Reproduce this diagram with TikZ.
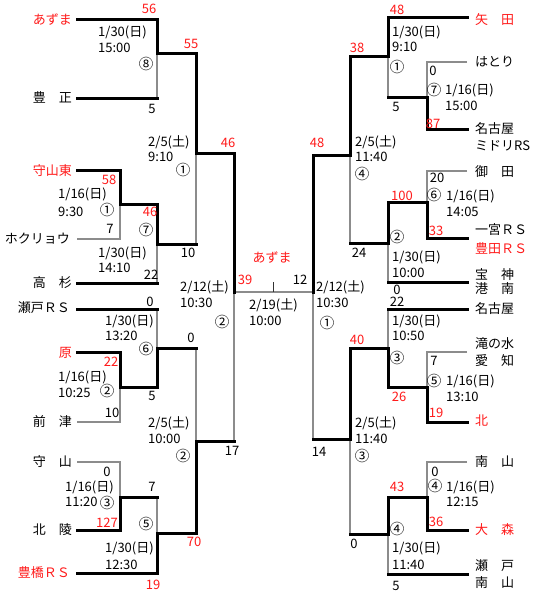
\documentclass[tikz,border=0pt]{standalone}
\usepackage{fontspec}
\setmainfont{Noto Sans CJK JP}
\definecolor{mred}{HTML}{FF1A1A}
\definecolor{lgray}{HTML}{8C8C8C}
\begin{document}
\begin{tikzpicture}[x=1pt,y=-1pt,
  win/.style={line width=3pt,line join=miter,line cap=rect},
  lose/.style={line width=1.2pt,draw=lgray},
  txt/.style={inner sep=0pt,text height=10pt,text depth=1pt,font=\fontsize{13}{15}\selectfont},
  circ/.style={inner sep=0pt,text height=10pt,text depth=1pt,font=\fontsize{14.5}{16}\selectfont},
  rd/.style={text=mred},
  lt/.style={txt,anchor=east},
  wt/.style={txt,anchor=west},
]
\path[use as bounding box,fill=white] (0,0) rectangle (540,602);

% ---------- gray (loser) lines ----------
% left
\draw[lose] (157,54) -- (157,98);
\draw[lose] (120,204) -- (120,239) -- (77,239);
\draw[lose] (157,244) -- (157,283);
\draw[lose] (196,153) -- (196,244);
\draw[lose] (234,292) -- (234,441);
\draw[lose] (157,309) -- (157,348);
\draw[lose] (120,387) -- (120,422) -- (77,422);
\draw[lose] (196,348) -- (196,441);
\draw[lose] (77,462) -- (120,462) -- (120,497);
\draw[lose] (157,497) -- (157,533);
% final
\draw[lose] (234,292) -- (313,292);
\draw[line width=1pt,black!80] (273,282) -- (273,292);
% right
\draw[lose] (388,57) -- (388,97);
\draw[lose] (467,62) -- (427,62) -- (427,97);
\draw[lose] (350,155) -- (350,243);
\draw[lose] (467,171) -- (427,171) -- (427,202);
\draw[lose] (388,243) -- (388,282);
\draw[lose] (388,309) -- (388,348);
\draw[lose] (467,352) -- (427,352) -- (427,387);
\draw[lose] (313,292) -- (313,439);
\draw[lose] (350,439) -- (350,534);
\draw[lose] (467,462) -- (427,462) -- (427,497);
\draw[lose] (388,534) -- (388,574);

% ---------- thick (winner) lines ----------
% left
\draw[win] (77,20) -- (157,20) -- (157,54) -- (196,54) -- (196,153) -- (234,153) -- (234,292);
\draw[win] (77,98) -- (157,98);
\draw[win] (77,170) -- (120,170) -- (120,204) -- (157,204) -- (157,244) -- (196,244);
\draw[win] (77,283) -- (157,283);
\draw[win] (77,309) -- (157,309);
\draw[win] (77,352) -- (120,352) -- (120,387) -- (157,387) -- (157,348) -- (196,348);
\draw[win] (77,530) -- (120,530) -- (120,497) -- (157,497);
\draw[win] (77,573) -- (157,573) -- (157,533) -- (196,533) -- (196,441) -- (234,441);
% right
\draw[win] (467,18) -- (388,18) -- (388,57) -- (350,57) -- (350,155) -- (313,155) -- (313,292);
\draw[win] (388,97) -- (427,97) -- (427,129) -- (467,129);
\draw[win] (350,243) -- (388,243) -- (388,202) -- (427,202) -- (427,238) -- (467,238);
\draw[win] (388,282) -- (467,282);
\draw[win] (467,309) -- (388,309);
\draw[win] (313,439) -- (350,439) -- (350,348) -- (388,348) -- (388,387) -- (427,387) -- (427,422) -- (467,422);
\draw[win] (350,534) -- (388,534) -- (388,497) -- (427,497) -- (427,530) -- (467,530);
\draw[win] (388,574) -- (467,574);

% ---------- left texts ----------
\node[lt,rd] (l1) at (72,20) {あずま};
\node[txt,rd] (l2) at (149,9) {56};
\node[wt] (l3) at (98,32) {1/30(日)};
\node[wt] (l4) at (98,48) {15:00};
\node[circ] (l5) at (146,65) {⑧};
\node[lt] (l6) at (72,98) {豊　正};
\node[txt] (l7) at (152,109) {5};
\node[txt,rd] (l8) at (191,44) {55};
\node[wt] (l9) at (148,142) {2/5(土)};
\node[wt] (l10) at (148,157) {9:10};
\node[circ] (l11) at (183,171) {①};
\node[txt,rd] (l12) at (228,143) {46};
\node[lt,rd] (l13) at (72,171) {守山東};
\node[txt,rd] (l14) at (109,180) {58};
\node[wt] (l15) at (58,194) {1/16(日)};
\node[wt] (l16) at (58,212) {9:30};
\node[circ] (l17) at (107,211) {①};
\node[txt] (l18) at (110,229) {7};
\node[lt] (l19) at (70,239) {ホクリョウ};
\node[txt,rd] (l20) at (150,212) {46};
\node[circ] (l21) at (146,231) {⑦};
\node[wt] (l22) at (98,253) {1/30(日)};
\node[wt] (l23) at (98,268) {14:10};
\node[txt] (l24) at (151,275) {22};
\node[txt] (l25) at (188,253) {10};
\node[lt] (l26) at (72,283) {高　杉};
\node[wt] (l27) at (180,287) {2/12(土)};
\node[wt] (l28) at (180,303) {10:30};
\node[circ] (l29) at (222,323) {②};
\node[txt] (l30) at (150,302) {0};
\node[lt] (l31) at (70,308) {瀬戸ＲＳ};
\node[wt] (l32) at (105,321) {1/30(日)};
\node[wt] (l33) at (105,336) {13:20};
\node[circ] (l34) at (146,350) {⑥};
\node[txt] (l35) at (191,338) {0};
\node[lt,rd] (l36) at (72,353) {原};
\node[txt,rd] (l37) at (111,362) {22};
\node[wt] (l38) at (58,377) {1/16(日)};
\node[wt] (l39) at (58,393) {10:25};
\node[circ] (l40) at (107,392) {②};
\node[txt] (l41) at (112,413) {10};
\node[txt] (l42) at (152,396) {5};
\node[lt] (l43) at (72,422) {前　津};
\node[wt] (l44) at (148,423) {2/5(土)};
\node[wt] (l45) at (148,439) {10:00};
\node[circ] (l46) at (183,457) {②};
\node[txt] (l47) at (232,451) {17};
\node[lt] (l48) at (72,462) {守　山};
\node[txt] (l49) at (107,472) {0};
\node[wt] (l50) at (65,487) {1/16(日)};
\node[wt] (l51) at (65,502) {11:20};
\node[circ] (l52) at (107,504) {③};
\node[txt] (l53) at (152,487) {7};
\node[circ] (l54) at (146,525) {⑤};
\node[lt] (l55) at (72,530) {北　陵};
\node[txt,rd] (l56) at (107,523) {127};
\node[wt] (l57) at (105,548) {1/30(日)};
\node[wt] (l58) at (105,565) {12:30};
\node[txt,rd] (l59) at (194,542) {70};
\node[lt,rd] (l60) at (70,573) {豊橋ＲＳ};
\node[txt,rd] (l61) at (153,585) {19};

% ---------- centre ----------
\node[txt,rd] (c1) at (272,258) {あずま};
\node[txt,rd] (c2) at (245,280) {39};
\node[txt] (c3) at (300,280) {12};
\node[wt] (c4) at (249,305) {2/19(土)};
\node[wt] (c5) at (249,321) {10:00};

% ---------- right texts ----------
\node[txt,rd] (r1) at (397,10) {48};
\node[wt,rd] (r2) at (475,20) {矢　田};
\node[wt] (r3) at (392,32) {1/30(日)};
\node[wt] (r4) at (392,47) {9:10};
\node[txt,rd] (r5) at (357,48) {38};
\node[circ] (r6) at (397,68) {①};
\node[wt] (r7) at (475,62) {はとり};
\node[txt] (r8) at (433,71) {0};
\node[circ] (r9) at (434,91) {⑦};
\node[wt] (r10) at (445,90) {1/16(日)};
\node[wt] (r11) at (445,106) {15:00};
\node[txt] (r12) at (396,107) {5};
\node[txt,rd] (r13) at (433,124) {87};
\node[wt] (r14) at (475,129) {名古屋};
\node[wt] (r15) at (475,146) {ミドリRS};
\node[txt,rd] (r16) at (317,143) {48};
\node[wt] (r17) at (355,142) {2/5(土)};
\node[wt] (r18) at (355,157) {11:40};
\node[circ] (r19) at (362,175) {④};
\node[wt] (r20) at (475,172) {御　田};
\node[txt] (r21) at (437,178) {20};
\node[circ] (r22) at (434,196) {⑥};
\node[wt] (r23) at (446,196) {1/16(日)};
\node[wt] (r24) at (446,212) {14:05};
\node[txt,rd] (r25) at (402,196) {100};
\node[txt,rd] (r26) at (436,231) {33};
\node[wt] (r27) at (475,230) {一宮ＲＳ};
\node[wt,rd] (r28) at (475,249) {豊田ＲＳ};
\node[circ] (r29) at (397,238) {②};
\node[txt] (r30) at (359,253) {24};
\node[wt] (r31) at (392,257) {1/30(日)};
\node[wt] (r32) at (392,273) {10:00};
\node[wt] (r33) at (475,275) {宝　神};
\node[wt] (r34) at (475,289) {港　南};
\node[txt] (r35) at (397,290) {0};
\node[wt] (r36) at (316,287) {2/12(土)};
\node[wt] (r37) at (316,303) {10:30};
\node[circ] (r38) at (327,324) {①};
\node[txt] (r39) at (397,302) {22};
\node[wt] (r40) at (475,309) {名古屋};
\node[wt] (r41) at (392,321) {1/30(日)};
\node[wt] (r42) at (392,336) {10:50};
\node[txt,rd] (r43) at (357,340) {40};
\node[circ] (r44) at (397,359) {③};
\node[wt] (r45) at (475,344) {滝の水};
\node[wt] (r46) at (475,361) {愛　知};
\node[txt] (r47) at (434,361) {7};
\node[circ] (r48) at (434,382) {⑤};
\node[wt] (r49) at (446,381) {1/16(日)};
\node[wt] (r50) at (446,397) {13:10};
\node[txt,rd] (r51) at (399,397) {26};
\node[txt,rd] (r52) at (436,413) {19};
\node[wt,rd] (r53) at (475,421) {北};
\node[wt] (r54) at (355,423) {2/5(土)};
\node[wt] (r55) at (355,439) {11:40};
\node[txt] (r56) at (319,452) {14};
\node[circ] (r57) at (362,457) {③};
\node[wt] (r58) at (475,462) {南　山};
\node[txt] (r59) at (435,472) {0};
\node[circ] (r60) at (435,487) {④};
\node[wt] (r61) at (446,487) {1/16(日)};
\node[wt] (r62) at (446,502) {12:15};
\node[txt,rd] (r63) at (397,487) {43};
\node[txt,rd] (r64) at (436,522) {36};
\node[wt,rd] (r65) at (475,530) {大　森};
\node[circ] (r66) at (397,530) {④};
\node[txt] (r67) at (354,544) {0};
\node[wt] (r68) at (392,548) {1/30(日)};
\node[wt] (r69) at (392,565) {11:40};
\node[wt] (r70) at (475,566) {瀬　戸};
\node[wt] (r71) at (475,583) {南　山};
\node[txt] (r72) at (396,586) {5};
\end{tikzpicture}
\end{document}
